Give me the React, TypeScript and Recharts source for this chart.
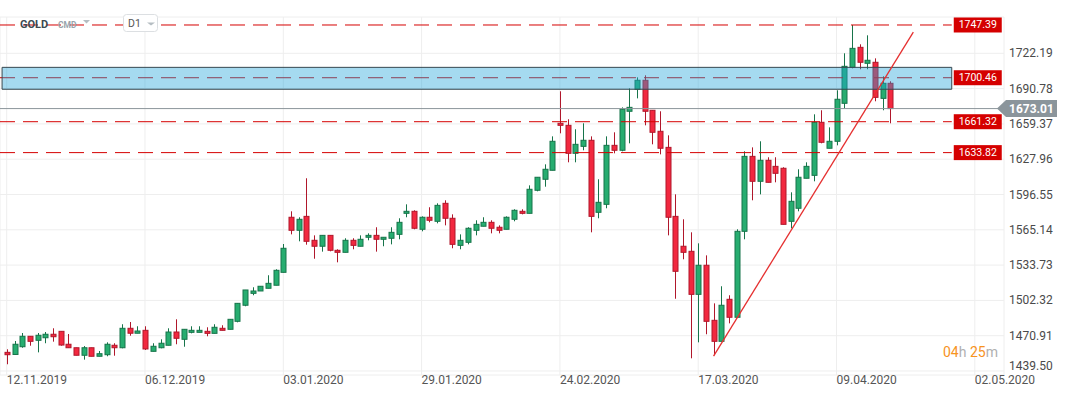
import React from 'react';
import { ComposedChart, Bar, XAxis, YAxis, CartesianGrid, ReferenceLine, ReferenceArea } from 'recharts';

// daily OHLC, GOLD D1
const opens = [
  1456.1, 1454.2, 1461.1, 1470.4, 1466.8, 1469.1, 1472.2, 1474.8, 1463.3, 1460.2,
  1453.5, 1460.2, 1452.6, 1454.0, 1462.4, 1460.2, 1477.5, 1473.1, 1475.7, 1457.0,
  1460.2, 1462.4, 1474.2, 1467.7, 1473.9, 1473.9, 1474.8, 1473.0, 1477.5, 1476.6,
  1483.7, 1498.0, 1508.6, 1510.7, 1513.1, 1515.8, 1527.3, 1576.3, 1564.7, 1577.1,
  1555.8, 1550.5, 1560.2, 1546.9, 1545.1, 1555.8, 1550.5, 1558.5, 1560.2, 1556.7,
  1557.6, 1561.1, 1579.8, 1581.6, 1565.6, 1576.3, 1572.7, 1588.7, 1575.4, 1551.3,
  1554.0, 1564.7, 1568.3, 1571.8, 1567.4, 1565.6, 1574.5, 1581.6, 1579.8, 1600.3,
  1610.1, 1618.1, 1659.9, 1658.1, 1633.2, 1639.4, 1644.8, 1580.7, 1587.8, 1640.3,
  1635.9, 1670.6, 1690.2, 1698.2, 1671.5, 1652.8, 1638.5, 1577.1, 1550.5, 1546.0,
  1507.7, 1533.6, 1484.6, 1465.9, 1503.3, 1487.3, 1563.8, 1630.5, 1608.3, 1627.0,
  1621.6, 1619.9, 1572.7, 1584.3, 1611.0, 1613.6, 1660.8, 1637.7, 1643.9, 1677.7,
  1709.7, 1727.5, 1713.3, 1714.2, 1682.1, 1695.5,
];
const highs = [
  1458.8, 1466.2, 1473.3, 1470.4, 1473.3, 1474.2, 1477.5, 1474.8, 1472.4, 1460.2,
  1461.7, 1460.2, 1457.3, 1465.0, 1464.2, 1481.1, 1483.1, 1479.3, 1479.3, 1464.2,
  1467.7, 1477.5, 1485.5, 1476.6, 1479.3, 1479.3, 1478.4, 1481.1, 1480.2, 1485.5,
  1499.7, 1511.6, 1514.0, 1514.9, 1524.7, 1530.0, 1552.5, 1581.6, 1576.3, 1611.0,
  1560.2, 1560.2, 1560.2, 1547.8, 1557.6, 1557.6, 1560.2, 1562.0, 1567.4, 1558.5,
  1567.4, 1575.4, 1587.8, 1582.5, 1577.1, 1585.2, 1588.7, 1591.4, 1578.9, 1561.1,
  1567.4, 1573.6, 1576.3, 1573.6, 1569.1, 1577.1, 1583.4, 1583.4, 1604.7, 1611.9,
  1623.4, 1648.3, 1688.4, 1663.5, 1654.6, 1659.9, 1648.3, 1610.1, 1648.3, 1651.9,
  1674.1, 1691.0, 1700.8, 1702.6, 1671.5, 1670.6, 1649.2, 1596.7, 1574.5, 1562.9,
  1553.1, 1542.4, 1499.7, 1514.9, 1506.9, 1565.6, 1635.0, 1638.5, 1643.9, 1629.7,
  1629.7, 1620.8, 1598.5, 1619.0, 1625.2, 1667.9, 1671.5, 1656.3, 1689.3, 1722.2,
  1747.39, 1730.2, 1738.2, 1717.7, 1701.7, 1697.3,
];
const lows = [
  1445.5, 1454.0, 1460.2, 1462.0, 1456.1, 1464.2, 1465.6, 1462.0, 1460.2, 1453.5,
  1449.6, 1452.6, 1452.6, 1452.6, 1453.1, 1459.7, 1470.9, 1473.1, 1458.2, 1457.0,
  1459.7, 1462.4, 1463.3, 1461.1, 1473.0, 1473.9, 1470.4, 1473.0, 1475.7, 1476.6,
  1482.8, 1497.1, 1506.9, 1510.7, 1513.1, 1515.8, 1527.3, 1561.1, 1554.9, 1551.9,
  1539.4, 1545.7, 1546.0, 1536.2, 1545.1, 1547.8, 1550.5, 1555.8, 1545.7, 1550.5,
  1552.2, 1556.7, 1576.3, 1565.6, 1563.8, 1571.8, 1570.9, 1569.1, 1548.7, 1547.8,
  1552.2, 1560.2, 1568.3, 1562.0, 1562.0, 1565.6, 1572.7, 1578.9, 1579.8, 1599.4,
  1603.5, 1618.1, 1651.0, 1625.2, 1625.2, 1635.9, 1562.9, 1575.4, 1584.3, 1633.2,
  1635.0, 1642.1, 1682.1, 1658.1, 1641.2, 1632.3, 1560.2, 1503.8, 1538.9, 1450.8,
  1465.0, 1472.2, 1453.5, 1465.9, 1481.9, 1487.3, 1556.7, 1591.4, 1596.7, 1607.4,
  1607.4, 1570.0, 1566.5, 1581.6, 1611.0, 1608.3, 1642.1, 1637.7, 1640.3, 1673.2,
  1708.8, 1708.0, 1708.0, 1679.5, 1671.5, 1659.9,
];
const closes = [
  1454.0, 1463.3, 1470.4, 1465.9, 1471.3, 1472.2, 1470.0, 1462.6, 1460.2, 1453.5,
  1460.2, 1452.6, 1454.9, 1463.3, 1460.2, 1477.5, 1473.1, 1475.1, 1459.1, 1461.5,
  1464.2, 1474.2, 1468.6, 1476.6, 1475.7, 1475.7, 1473.0, 1478.4, 1475.7, 1485.5,
  1499.7, 1511.6, 1510.7, 1514.9, 1517.5, 1529.1, 1548.7, 1564.7, 1574.5, 1554.9,
  1550.5, 1560.2, 1546.9, 1545.1, 1555.8, 1551.3, 1556.7, 1560.2, 1556.7, 1558.5,
  1562.9, 1571.8, 1581.6, 1566.5, 1576.3, 1573.6, 1586.9, 1575.4, 1552.2, 1555.8,
  1566.5, 1570.0, 1571.8, 1566.5, 1564.7, 1576.3, 1582.5, 1579.8, 1601.2, 1611.9,
  1619.0, 1643.9, 1658.1, 1633.2, 1641.2, 1644.8, 1577.1, 1589.6, 1640.3, 1635.9,
  1672.4, 1674.1, 1698.2, 1670.6, 1651.9, 1637.7, 1576.3, 1528.2, 1545.1, 1507.7,
  1533.6, 1483.7, 1465.9, 1498.0, 1487.3, 1563.8, 1630.5, 1608.3, 1627.0, 1607.4,
  1615.4, 1570.0, 1590.5, 1611.9, 1621.6, 1660.8, 1643.0, 1643.9, 1681.3, 1710.6,
  1726.6, 1714.2, 1716.0, 1683.0, 1695.5, 1673.01,
];

const xTickIndex = [0, 18, 36, 54, 72, 90, 108, 126];
const xTickLabels = ['12.11.2019', '06.12.2019', '03.01.2020', '29.01.2020', '24.02.2020', '17.03.2020', '09.04.2020', '02.05.2020'];
const yTicks = [1439.5, 1470.91, 1502.32, 1533.73, 1565.14, 1596.55, 1627.96, 1659.37, 1690.78, 1722.19];

const levels = [1747.39, 1700.46, 1661.32, 1633.82];
const zone = [1690.2, 1709.7];
const lastPrice = 1673.01;
const trendStart = { x: 92, y: 1452.8 };
const trendEnd = { x: 118, y: 1741 };

const data = opens.map((o, i) => ({ i, open: o, high: highs[i], low: lows[i], close: closes[i] }));

const X_MIN = -0.87;
const X_MAX = 129.8;
const LEVEL_END = 123;

const Candle = (props: any) => {
  const { x, y, width, height, payload } = props;
  const { open, close, high, low } = payload;
  const top = Math.min(y, y + height);
  const h = Math.abs(height);
  const k = high === low ? 0 : h / (high - low);
  const cx = Math.round(x + width / 2) + 0.5;
  const up = close >= open;
  const bTop = top + (high - Math.max(open, close)) * k;
  const bBot = top + (high - Math.min(open, close)) * k;
  const fill = up ? '#27ad70' : '#f2283f';
  const edge = up ? '#17744a' : '#b0172b';
  return (
    <g>
      <line x1={cx} x2={cx} y1={top} y2={top + h} stroke={edge} strokeWidth={1} />
      <rect x={cx - 2.5} y={bTop} width={5} height={Math.max(1, bBot - bTop)} fill={fill} stroke={edge} strokeWidth={1} />
    </g>
  );
};

const XTick = (props: any) => {
  const { x, y, payload } = props;
  const idx = xTickIndex.indexOf(payload.value);
  return (
    <text x={x} y={y + 9} textAnchor="start" fontSize={12} fill="#555" fontFamily="Roboto">
      {xTickLabels[idx]}
    </text>
  );
};

const YTick = (props: any) => {
  const { x, y, payload } = props;
  const yy = y > 368 ? y - 4.5 : y;
  return (
    <text x={x} y={yy + 4} textAnchor="start" fontSize={12} fill="#4a4a4a" fontFamily="Roboto">
      {payload.value.toFixed(2)}
    </text>
  );
};

const LevelTag = ({ viewBox, value }: any) => {
  if (!viewBox) return null;
  const x = viewBox.x + viewBox.width + 2;
  const y = viewBox.y;
  return (
    <g>
      <rect x={x} y={y - 7.5} width={48} height={15} fill="#d50000" />
      <text x={x + 24} y={y + 3.5} textAnchor="middle" fontSize={10.5} fill="#fff" fontFamily="Roboto">
        {value.toFixed(2)}
      </text>
    </g>
  );
};

const PriceTag = ({ viewBox, value }: any) => {
  if (!viewBox) return null;
  const x = viewBox.x + viewBox.width - 7;
  const y = viewBox.y;
  return (
    <g>
      <polygon points={`${x},${y} ${x + 9},${y - 8.5} ${x + 60},${y - 8.5} ${x + 60},${y + 8.5} ${x + 9},${y + 8.5}`} fill="#8b959b" />
      <text x={x + 12} y={y + 4.5} textAnchor="start" fontSize={12} fontWeight="bold" fill="#fff" fontFamily="Roboto">
        {value.toFixed(2)}
      </text>
    </g>
  );
};

export default function App() {
  return (
    <div style={{ position: 'absolute', left: 0, top: 0, width: 1069, height: 398, background: '#fff', fontFamily: 'Roboto' }}>
      <ComposedChart width={1069} height={398} data={data} margin={{ top: 17, right: 0, bottom: 0, left: 0 }}>
        <CartesianGrid stroke="#eeeeee" />
        <XAxis
          dataKey="i"
          type="number"
          domain={[X_MIN, X_MAX]}
          allowDataOverflow
          ticks={xTickIndex}
          tick={<XTick />}
          tickLine={false}
          axisLine={false}
          tickSize={0}
          tickMargin={0}
          height={23}
          interval={0}
        />
        <YAxis
          orientation="right"
          type="number"
          domain={[1435.94, 1754.5]}
          allowDataOverflow
          ticks={yTicks}
          tick={<YTick />}
          tickLine={false}
          axisLine={false}
          tickSize={0}
          tickMargin={5}
          width={65}
          interval={0}
        />
        {levels.map((v) => (
          <ReferenceLine
            key={v}
            segment={[{ x: X_MIN, y: v }, { x: LEVEL_END, y: v }]}
            stroke="#d50000"
            strokeWidth={1}
            strokeDasharray="15 8"
            ifOverflow="visible"
            label={{ content: (p: any) => <LevelTag viewBox={p.viewBox} value={v} /> }}
          />
        ))}
        <ReferenceLine
          y={lastPrice}
          stroke="#8b959b"
          strokeWidth={1}
          label={{ content: (p: any) => <PriceTag viewBox={p.viewBox} value={lastPrice} /> }}
        />
        <Bar dataKey={(d: any) => [d.low, d.high]} barSize={6} shape={<Candle />} isAnimationActive={false} />
        <ReferenceArea
          x1={-0.6}
          x2={LEVEL_END}
          y1={zone[0]}
          y2={zone[1]}
          fill="#1ea2d9"
          fillOpacity={0.4}
          stroke="#37474f"
          strokeWidth={1}
          ifOverflow="visible"
          zIndex={650}
        />
        <ReferenceLine
          segment={[trendStart, trendEnd]}
          stroke="#e53030"
          strokeWidth={1.3}
          ifOverflow="visible"
          zIndex={700}
        />
      </ComposedChart>
      <svg width={1069} height={398} style={{ position: 'absolute', left: 0, top: 0, pointerEvents: 'none' }}>
        <text x={20} y={28} fontSize={11} fontWeight="bold" fill="#3c4a52" fontFamily="Roboto">GOLD</text>
        <text x={58} y={27.5} fontSize={8.5} fontWeight="bold" fill="#98a4ab" fontFamily="Roboto">CMD</text>
        <polygon points="83,20 90,20 86.5,23.5" fill="#b5bdc2" />
        <rect x={123.5} y={14.5} width={34} height={17} rx={3} fill="#fff" stroke="#dcdfe2" />
        <text x={128} y={27} fontSize={10.5} fill="#555" fontFamily="Roboto">D1</text>
        <polygon points="147,22.5 155,22.5 151,25.5" fill="#b5bdc2" />
        <text x={943} y={357} fontSize={14} fontFamily="Roboto">
          <tspan fill="#f7931e">04</tspan>
          <tspan fill="#b0b0b0">h </tspan>
          <tspan fill="#f7931e">25</tspan>
          <tspan fill="#b0b0b0">m</tspan>
        </text>
      </svg>
    </div>
  );
}
